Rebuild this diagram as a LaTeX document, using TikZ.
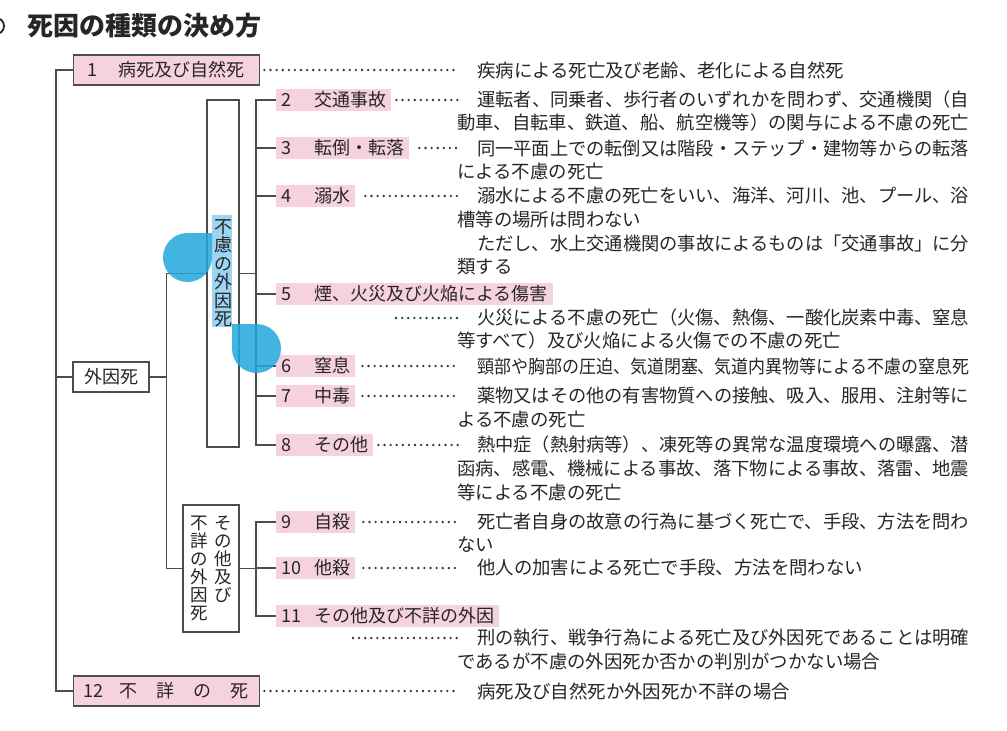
\documentclass[tikz,border=0pt]{standalone}
\usepackage{fontspec}
\usepackage{graphicx}
\setmainfont{Noto Sans CJK JP}
\definecolor{pinkc}{HTML}{F6D2E0}
\definecolor{linec}{HTML}{4D4D4D}
\definecolor{txtc}{HTML}{262626}
\definecolor{dotc}{HTML}{333333}
\definecolor{hlc}{HTML}{9DD4F3}
\definecolor{handlec}{HTML}{22A8DD}
\newcommand\mydfont{\fontsize{18.4}{23}\selectfont}
\newcommand\mylfont{\fontsize{18}{22}\selectfont}
\newcommand\myvfont{\fontsize{18}{18.5}\selectfont}
\newcommand\mywfont{\fontsize{17.5}{18}\selectfont}
\newcommand\dfull[4]{\node[desc] (#1) at (#2,#3) {\resizebox{\dimexpr969pt-#2pt\relax}{\height}{#4}};}
\newcommand\dtext[4]{\node[desc] (#1) at (#2,#3) {#4};}
\newcommand\numlbl[2]{\makebox[33pt][l]{#1}#2}
\begin{document}
\begin{tikzpicture}[x=1pt,y=-1pt,
  ln/.style={draw=linec, line width=1.4pt},
  dots/.style={draw=dotc, line width=2.6pt, line cap=round, dash pattern=on 0pt off 6.1pt},
  lbl/.style={fill=pinkc, anchor=west, inner xsep=5pt, inner ysep=0pt, minimum height=22pt, font=\mylfont, text=txtc},
  pbox/.style={draw=linec, line width=1.4pt, fill=pinkc, anchor=west, inner xsep=2pt, inner ysep=0pt, text width=182pt, minimum height=30pt, align=left, font=\mylfont, text=txtc},
  wbox/.style={draw=linec, line width=1.4pt, fill=white, inner sep=0pt, font=\mylfont, text=txtc},
  desc/.style={anchor=west, inner sep=0pt, font=\mydfont, text=txtc},
  handle/.style={fill=handlec, fill opacity=0.85}]
\useasboundingbox (0,0) rectangle (1007,731);
\fill[white] (0,0) rectangle (1007,731);

% title
\draw[draw=txtc, line width=1.8pt] (-4,18) arc[start angle=-90, end angle=90, radius=8];
\node[anchor=west, inner sep=0pt, font=\fontsize{26}{30}\selectfont\bfseries, text=txtc] (title) at (27,26) {死因の種類の決め方};

% top-level boxes
\node[pbox] (box1) at (73,70) {\hspace{12pt}\makebox[31pt][l]{1}病死及び自然死};
\node[pbox] (box12) at (73,691) {\hspace{8pt}\makebox[26pt][l]{12}\makebox[37pt]{不}\makebox[37pt]{詳}\makebox[37pt]{の}\makebox[37pt]{死}};
\node[wbox, minimum width=76pt, minimum height=30pt] (gaiin) at (111,377) {外因死};

% selection highlight behind vertical text
\fill[hlc] (212,215) rectangle (232,327);
\node[wbox, fill=none, minimum width=32pt, minimum height=347pt, align=center, font=\myvfont] (furyo) at (223,273.5) {不\\慮\\の\\外\\因\\死};
\node[wbox, minimum width=56pt, minimum height=127pt, font=\mywfont] (sonota) at (211,568.5)
  {\parbox[t]{24pt}{\centering 不\\詳\\の\\外\\因\\死}\parbox[t]{24pt}{\centering そ\\の\\他\\及\\び}};

% item labels
\node[lbl] (i2) at (276,100) {\numlbl{2}{交通事故}};
\node[lbl] (i3) at (276,148) {\numlbl{3}{転倒・転落}};
\node[lbl] (i4) at (276,196) {\numlbl{4}{溺水}};
\node[lbl] (i5) at (276,294) {\numlbl{5}{煙、火災及び火焔による傷害}};
\node[lbl] (i6) at (276,366) {\numlbl{6}{窒息}};
\node[lbl] (i7) at (276,396) {\numlbl{7}{中毒}};
\node[lbl] (i8) at (276,445) {\numlbl{8}{その他}};
\node[lbl] (i9) at (276,522) {\numlbl{9}{自殺}};
\node[lbl] (i10) at (276,568) {\numlbl{10}{他殺}};
\node[lbl] (i11) at (276,616) {\numlbl{11}{その他及び不詳の外因}};

% descriptions
\dtext{d1a}{477}{70}{疾病による死亡及び老齢、老化による自然死}
\dfull{d2a}{477}{100}{運転者、同乗者、歩行者のいずれかを問わず、交通機関（自}
\dfull{d2b}{457}{123}{動車、自転車、鉄道、船、航空機等）の関与による不慮の死亡}
\dfull{d3a}{477}{148}{同一平面上での転倒又は階段・ステップ・建物等からの転落}
\dtext{d3b}{457}{171}{による不慮の死亡}
\dfull{d4a}{477}{196}{溺水による不慮の死亡をいい、海洋、河川、池、プール、浴}
\dtext{d4b}{457}{219}{槽等の場所は問わない}
\dfull{d4c}{477}{244}{ただし、水上交通機関の事故によるものは「交通事故」に分}
\dtext{d4d}{457}{267}{類する}
\dfull{d5a}{477}{318}{火災による不慮の死亡（火傷、熱傷、一酸化炭素中毒、窒息}
\dtext{d5b}{457}{341}{等すべて）及び火焔による火傷での不慮の死亡}
\dfull{d6a}{477}{366}{頸部や胸部の圧迫、気道閉塞、気道内異物等による不慮の窒息死}
\dfull{d7a}{477}{396}{薬物又はその他の有害物質への接触、吸入、服用、注射等に}
\dtext{d7b}{457}{419}{よる不慮の死亡}
\dfull{d8a}{477}{445}{熱中症（熱射病等）、凍死等の異常な温度環境への曝露、潜}
\dfull{d8b}{457}{468}{函病、感電、機械による事故、落下物による事故、落雷、地震}
\dtext{d8c}{457}{492}{等による不慮の死亡}
\dfull{d9a}{477}{522}{死亡者自身の故意の行為に基づく死亡で、手段、方法を問わ}
\dtext{d9b}{457}{545}{ない}
\dtext{d10a}{477}{568}{他人の加害による死亡で手段、方法を問わない}
\dfull{d11a}{477}{638}{刑の執行、戦争行為による死亡及び外因死であることは明確}
\dtext{d11b}{457}{661}{であるが不慮の外因死か否かの判別がつかない場合}
\dtext{d12a}{477}{691}{病死及び自然死か外因死か不詳の場合}

% tree lines
\coordinate (j1) at (167,377);
\draw[ln] (box1.west) -- ++(-17,0) |- (box12.west);
\draw[ln] (gaiin.west) -- ++(-17,0);
\draw[ln] (gaiin.east) -- (j1);
\draw[ln] (furyo.west) -- ++(-40,0) |- (sonota.west);
\draw[ln] (furyo.east) -- ++(17,0);
\draw[ln] (i2.west) -- ++(-20,0) |- (i8.west);
\foreach \n in {i3,i4,i5,i6,i7} \draw[ln] (\n.west) -- ++(-20,0);
\draw[ln] (sonota.east) -- ++(17,0);
\draw[ln] (i9.west) -- ++(-20,0) |- (i11.west);
\draw[ln] (i10.west) -- ++(-20,0);

% dotted leaders
\coordinate (c5) at (396,318);
\coordinate (c11) at (353,638);
\draw[dots] ([xshift=4pt]box1.east) -- ([xshift=-19pt]d1a.west);
\draw[dots] ([xshift=5pt]i2.east) -- ([xshift=-19pt]d2a.west);
\draw[dots] ([xshift=10pt]i3.east) -- ([xshift=-19pt]d3a.west);
\draw[dots] ([xshift=10pt]i4.east) -- ([xshift=-19pt]d4a.west);
\draw[dots] (c5) -- ([xshift=-19pt]d5a.west);
\draw[dots] ([xshift=7pt]i6.east) -- ([xshift=-19pt]d6a.west);
\draw[dots] ([xshift=7pt]i7.east) -- ([xshift=-19pt]d7a.west);
\draw[dots] ([xshift=5pt]i8.east) -- ([xshift=-19pt]d8a.west);
\draw[dots] ([xshift=8pt]i9.east) -- ([xshift=-19pt]d9a.west);
\draw[dots] ([xshift=8pt]i10.east) -- ([xshift=-19pt]d10a.west);
\draw[dots] (c11) -- ([xshift=-19pt]d11a.west);
\draw[dots] ([xshift=4pt]box12.east) -- ([xshift=-19pt]d12a.west);

% selection handles
\fill[handle] (212,233) -- (212,257.5) arc[start angle=0, end angle=270, radius=24.5] -- cycle;
\fill[handle] (232,324) -- (256.5,324) arc[start angle=-90, end angle=180, radius=24.5] -- cycle;
\end{tikzpicture}
\end{document}
